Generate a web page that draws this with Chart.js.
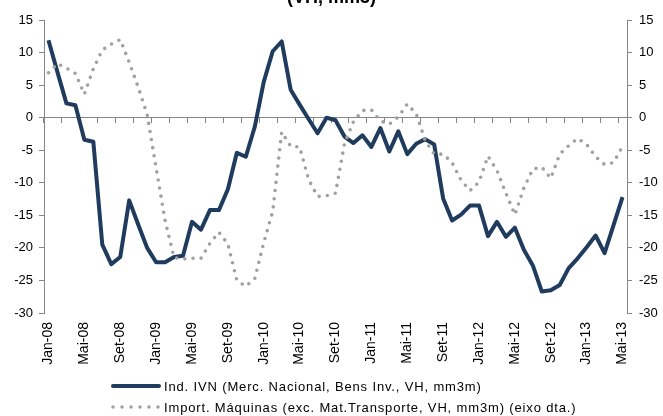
<!DOCTYPE html>
<html><head><meta charset="utf-8">
<script src="https://cdn.jsdelivr.net/npm/chart.js@4.4.1/dist/chart.umd.min.js"></script>
<style>
html,body{margin:0;padding:0;background:#fff;}
#wrap{position:relative;width:663px;height:416px;overflow:hidden;font-family:"Liberation Sans",Arial,sans-serif;background:#fff;}
canvas{position:absolute;left:0;top:0;}
#title{position:absolute;left:0;width:663px;top:-12px;text-align:center;font-weight:bold;font-size:18px;line-height:18px;color:#000;}
.leg{position:absolute;left:111px;height:16px;font-size:13px;letter-spacing:0.85px;color:#000;white-space:nowrap;display:flex;align-items:center;}
.leg svg{margin-right:3px;flex:none;}
</style></head>
<body>
<div id="wrap">
<canvas id="c" width="663" height="416"></canvas>
<div id="title">(VH, mm3)</div>
<div class="leg" style="top:378px"><svg width="50" height="8"><line x1="2" y1="4" x2="48" y2="4" stroke="#1F3B5E" stroke-width="4" stroke-linecap="round"/></svg><span>Ind. IVN (Merc. Nacional, Bens Inv., VH, mm3m)</span></div>
<div class="leg" style="top:399px"><svg width="50" height="8"><line x1="2" y1="4" x2="48" y2="4" stroke="#A0A0A0" stroke-width="3.5" stroke-linecap="round" stroke-dasharray="0 9"/></svg><span>Import. Máquinas (exc. Mat.Transporte, VH, mm3m) (eixo dta.)</span></div>
</div>
<script>
// Categories: monthly, Jan-08 .. Mai-13
const monthNames = ['Jan','Fev','Mar','Abr','Mai','Jun','Jul','Ago','Set','Out','Nov','Dez'];
const categories = [];
for (let y = 8; y <= 13; y++) {
  for (let m = 0; m < 12; m++) {
    if (y === 13 && m > 4) break;
    categories.push(monthNames[m] + '-' + (y < 10 ? '0' + y : '' + y));
  }
}

// Ind. IVN (Merc. Nacional, Bens Inv., VH, mm3m) - left axis
const ivnValues = [
  11.9, 7.0, 2.2, 1.9, -3.4, -3.7, -19.5, -22.5, -21.4, -12.7, -16.4, -20.0,
  -22.2, -22.2, -21.4, -21.2, -16.0, -17.2, -14.2, -14.2, -11.0, -5.4, -6.0, -1.4,
  5.5, 10.2, 11.7, 4.3, 2.0, -0.2, -2.4, 0.0, -0.4, -2.9, -3.9, -2.7,
  -4.5, -1.6, -5.2, -2.1, -5.6, -4.0, -3.3, -4.1, -12.4, -15.8, -14.9, -13.5,
  -13.5, -18.2, -16.0, -18.3, -16.9, -20.3, -22.7, -26.7, -26.5, -25.7, -23.1, -21.6,
  -19.9, -18.1, -20.8, -16.5, -12.2
];

// Import. Máquinas (exc. Mat.Transporte, VH, mm3m) - right axis
const importValues = [
  6.9, 8.3, 7.6, 6.8, 3.6, 7.5, 10.4, 11.3, 12.0, 8.5, 4.7, 0.5,
  -7.7, -15.8, -21.5, -21.7, -21.6, -21.6, -19.3, -17.6, -19.4, -25.0, -25.9, -24.7,
  -19.2, -14.4, -2.2, -4.4, -4.5, -9.5, -12.1, -12.0, -11.6, -4.0, -0.6, 1.1,
  1.2, -0.5, -1.0, 0.1, 2.1, 0.6, -3.5, -5.6, -5.6, -6.9, -9.6, -11.2,
  -9.9, -5.9, -8.1, -11.6, -14.9, -10.8, -7.9, -7.6, -9.3, -5.6, -4.3, -3.2,
  -4.1, -6.0, -7.2, -6.9, -4.4
];

const axisMin = -30, axisMax = 15, axisStep = 5;

const axisColor = '#868686';
const fontFamily = '"Liberation Sans", Arial, sans-serif';

new Chart(document.getElementById('c'), {
  type: 'line',
  data: {
    labels: categories,
    datasets: [
      {
        label: 'Import. Máquinas (exc. Mat.Transporte, VH, mm3m) (eixo dta.)',
        data: importValues,
        yAxisID: 'y1',
        xAxisID: 'x',
        borderColor: '#A0A0A0',
        borderWidth: 3.6,
        borderDash: [0, 8.2],
        borderCapStyle: 'round',
        borderJoinStyle: 'round',
        pointRadius: 0,
        tension: 0,
        fill: false,
        order: 0
      },
      {
        label: 'Ind. IVN (Merc. Nacional, Bens Inv., VH, mm3m)',
        data: ivnValues,
        yAxisID: 'y',
        xAxisID: 'x',
        borderColor: '#1F3B5E',
        borderWidth: 4,
        borderJoinStyle: 'round',
        pointRadius: 0,
        tension: 0,
        fill: false,
        order: 1
      }
    ]
  },
  options: {
    responsive: false,
    animation: false,
    devicePixelRatio: 1,
    layout: { padding: { top: 20, bottom: 43, left: 0, right: 0 } },
    plugins: { legend: { display: false }, tooltip: { enabled: false }, title: { display: false } },
    scales: {
      x: {
        type: 'category',
        position: { y: 0 },
        offset: true,
        grid: {
          offset: true,
          drawOnChartArea: false,
          drawTicks: true,
          tickLength: 5,
          lineWidth: 1,
          color: (ctx) => (ctx.index % 2 === 0 ? axisColor : 'rgba(0,0,0,0)')
        },
        border: { display: true, color: axisColor, width: 1 },
        ticks: { display: false, autoSkip: false }
      },
      x2: {
        type: 'category',
        position: 'bottom',
        offset: true,
        grid: { display: false, drawTicks: false },
        border: { display: false },
        ticks: {
          autoSkip: false,
          minRotation: 90,
          maxRotation: 90,
          padding: 9,
          color: '#000',
          font: { family: fontFamily, size: 14 },
          callback: (v, i) => (i % 4 === 0 ? categories[i] : '')
        },
        afterFit: (s) => { s.height = 60; }
      },
      y: {
        position: 'left',
        min: axisMin, max: axisMax,
        ticks: { stepSize: axisStep, padding: 6, color: '#000', font: { family: fontFamily, size: 13 } },
        grid: { drawOnChartArea: false, drawTicks: true, tickLength: 5, color: axisColor },
        border: { display: true, color: axisColor, width: 1 },
        afterFit: (s) => { s.width = 44; }
      },
      y1: {
        position: 'right',
        min: axisMin, max: axisMax,
        ticks: { stepSize: axisStep, padding: 7, color: '#000', font: { family: fontFamily, size: 13 } },
        grid: { drawOnChartArea: false, drawTicks: true, tickLength: 5, color: axisColor },
        border: { display: true, color: axisColor, width: 1 },
        afterFit: (s) => { s.width = 36; }
      }
    }
  }
});
</script>
</body></html>
